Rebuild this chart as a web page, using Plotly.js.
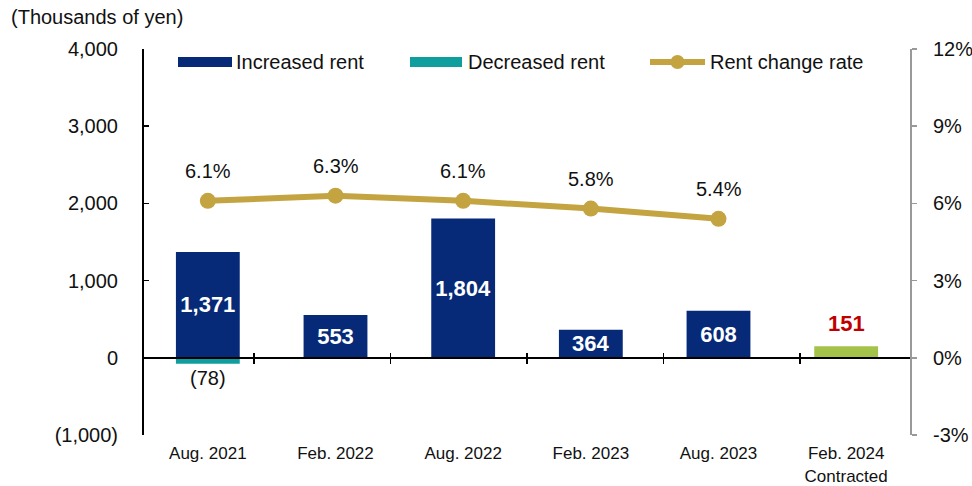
<!DOCTYPE html>
<html>
<head>
<meta charset="utf-8">
<script src="https://cdn.plot.ly/plotly-3.0.1.min.js"></script>
<style>html,body{margin:0;padding:0;background:#fff;}#chart{width:972px;height:486px;}</style>
</head>
<body>
<div id="chart"></div>
<script>
// ---- data ----
const categories = ["Aug. 2021", "Feb. 2022", "Aug. 2022", "Feb. 2023", "Aug. 2023", "Feb. 2024<br>Contracted"];
const increasedRent = [1371, 553, 1804, 364, 608, null];
const decreasedRent = [-78, null, null, null, null, null];
const contractedRent = [null, null, null, null, null, 151];
const rentChangeRate = [6.1, 6.3, 6.1, 5.8, 5.4, null];
const leftTicks = [-1000, 0, 1000, 2000, 3000, 4000];
const leftTickText = ["(1,000)", "0", "1,000", "2,000", "3,000", "4,000"];
const rightTicks = [-3, 0, 3, 6, 9, 12];
const rightTickText = ["-3%", "0%", "3%", "6%", "9%", "12%"];
const seriesNames = ["Increased rent", "Decreased rent", "Rent change rate"];
const colors = {inc: "#062a78", dec: "#0e9e9e", green: "#a4c34a", gold: "#c4a441"};

const FONT = "Liberation Sans, Arial, sans-serif";
const fmt = v => v == null ? "" : (v < 0 ? "(" + Math.abs(v).toLocaleString("en-US") + ")" : v.toLocaleString("en-US"));

const traces = [
  {
    type: "bar", name: seriesNames[0], x: categories, y: increasedRent,
    marker: {color: colors.inc}, width: 0.5, showlegend: false,
    text: increasedRent.map(fmt), textposition: "inside", insidetextanchor: "middle",
    constraintext: "none",
    textfont: {family: FONT, size: 22, color: "#ffffff", weight: "bold"},
    hoverinfo: "skip", cliponaxis: false
  },
  {
    type: "bar", name: seriesNames[1], x: categories, y: decreasedRent,
    marker: {color: colors.dec}, width: 0.5, showlegend: false,
    text: decreasedRent.map(fmt), textposition: "outside", constraintext: "none",
    textfont: {family: FONT, size: 20, color: "#111111"},
    hoverinfo: "skip", cliponaxis: false
  },
  {
    type: "bar", name: "Contracted", x: categories, y: contractedRent, showlegend: false,
    marker: {color: colors.green}, width: 0.5,
    hoverinfo: "skip", cliponaxis: false
  },
  {
    type: "scatter", mode: "lines+markers", name: seriesNames[2],
    x: categories, y: rentChangeRate, yaxis: "y2", showlegend: false,
    line: {color: colors.gold, width: 6}, marker: {color: colors.gold, size: 16},
    hoverinfo: "skip", cliponaxis: false
  }
];

const annotations = rentChangeRate.map((v, i) => v == null ? null : ({
  x: categories[i], y: v, xref: "x", yref: "y2", text: v.toFixed(1) + "%",
  showarrow: false, yshift: 30, font: {family: FONT, size: 20, color: "#111111"}
})).filter(a => a);

contractedRent.forEach((v, i) => {
  if (v == null) return;
  annotations.push({
    x: categories[i], y: v, xref: "x", yref: "y", text: "<b>" + fmt(v) + "</b>",
    showarrow: false, yshift: 23, font: {family: FONT, size: 22, color: "#c00000"}
  });
});

annotations.push({
  xref: "paper", yref: "paper", x: -0.176, y: 1.082, xanchor: "left", yanchor: "middle",
  text: "(Thousands of yen)", showarrow: false, font: {family: FONT, size: 20, color: "#111111"}
});

// custom legend (wide swatches like the reference)
const px = p => (p - 144) / 766;
const py = p => (435 - p) / 386;
const legendItems = [
  {name: seriesNames[0], color: colors.inc, x0: 178, x1: 232, tx: 234, kind: "bar"},
  {name: seriesNames[1], color: colors.dec, x0: 410, x1: 462, tx: 466, kind: "bar"},
  {name: seriesNames[2], color: colors.gold, x0: 650, x1: 705, tx: 708, kind: "line"}
];
const shapes = [];
legendItems.forEach(it => {
  if (it.kind === "bar") {
    shapes.push({type: "rect", xref: "paper", yref: "paper", x0: px(it.x0), x1: px(it.x1), y0: py(67), y1: py(57),
      fillcolor: it.color, line: {width: 0}});
  } else {
    shapes.push({type: "line", xref: "paper", yref: "paper", x0: px(it.x0), x1: px(it.x1), y0: py(62), y1: py(62),
      line: {color: it.color, width: 6}});
    shapes.push({type: "circle", xref: "paper", yref: "paper", xsizemode: "pixel", ysizemode: "pixel",
      xanchor: px((it.x0 + it.x1) / 2), yanchor: py(62), x0: -7, x1: 7, y0: -7, y1: 7,
      fillcolor: it.color, line: {width: 0}});
  }
  annotations.push({xref: "paper", yref: "paper", x: px(it.tx), y: py(62), xanchor: "left", yanchor: "middle",
    text: it.name, showarrow: false, font: {family: FONT, size: 20, color: "#111111"}});
});

const layout = {
  width: 972, height: 486,
  margin: {l: 144, r: 62, t: 49, b: 51},
  paper_bgcolor: "#ffffff", plot_bgcolor: "#ffffff",
  font: {family: FONT, size: 20, color: "#111111"},
  barmode: "relative",
  showlegend: false,
  xaxis: {
    type: "category", categoryorder: "array", categoryarray: categories,
    showline: false, showgrid: false, zeroline: false,
    ticks: "outside", ticklen: 3, tickcolor: "rgba(0,0,0,0)",
    tickfont: {family: FONT, size: 17, color: "#111111"}
  },
  xaxis2: {
    type: "category", categoryorder: "array", categoryarray: categories,
    overlaying: "x", anchor: "free", position: 0.2, side: "bottom",
    showline: true, linecolor: "#000000", linewidth: 2,
    ticks: "outside", tickson: "boundaries", ticklen: 5, tickcolor: "#000000", tickwidth: 1.5,
    showticklabels: false, showgrid: false, zeroline: false
  },
  xaxis3: {
    type: "category", categoryorder: "array", categoryarray: categories,
    overlaying: "x", anchor: "free", position: 0.2, side: "top",
    showline: false,
    ticks: "outside", tickson: "boundaries", ticklen: 5, tickcolor: "#000000", tickwidth: 1.5,
    showticklabels: false, showgrid: false, zeroline: false
  },
  yaxis: {
    range: [-1000, 4000], tickvals: leftTicks, ticktext: leftTickText,
    showline: true, linecolor: "#000000", linewidth: 2,
    ticks: "inside", ticklen: 5, tickcolor: "#000000", tickwidth: 1.5,
    showgrid: false, zeroline: false,
    tickfont: {family: FONT, size: 20, color: "#111111"}, ticklabelstandoff: 20
  },
  yaxis2: {
    range: [-3, 12], tickvals: rightTicks, ticktext: rightTickText,
    overlaying: "y", side: "right", anchor: "x",
    showline: true, linecolor: "#999999", linewidth: 2,
    ticks: "outside", ticklen: 5, tickcolor: "#999999", tickwidth: 1.5,
    showgrid: false, zeroline: false,
    tickfont: {family: FONT, size: 20, color: "#111111"}, ticklabelstandoff: 12
  },
  shapes: shapes,
  annotations: annotations
};

traces.push({type: "scatter", x: categories, y: [null,null,null,null,null,null], xaxis: "x2", showlegend: false, hoverinfo: "skip"});
traces.push({type: "scatter", x: categories, y: [null,null,null,null,null,null], xaxis: "x3", showlegend: false, hoverinfo: "skip"});

Plotly.newPlot("chart", traces, layout, {staticPlot: true, displayModeBar: false});
</script>
</body>
</html>
